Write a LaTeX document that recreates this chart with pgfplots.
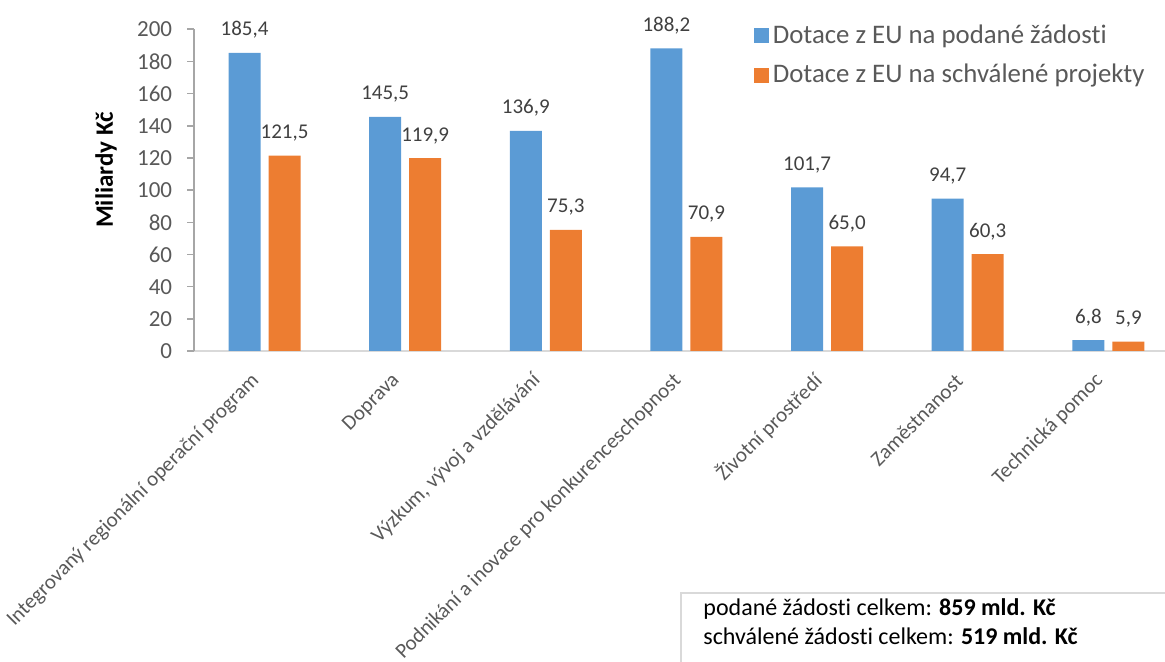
\documentclass[border=0pt]{standalone}
\usepackage{pgfplots}
\pgfplotsset{compat=1.18}
\usepackage{fontspec}
\setmainfont{Carlito}[Ligatures=NoCommon]
\definecolor{cblue}{HTML}{5B9BD5}
\definecolor{corange}{HTML}{ED7D31}
\definecolor{tgrey}{HTML}{595959}
\definecolor{lgrey}{HTML}{404040}
\definecolor{agrey}{HTML}{A6A6A6}
\definecolor{bgrey}{HTML}{D9D9D9}
\begin{document}
\begin{tikzpicture}
\useasboundingbox (0pt,0pt) rectangle (582.5pt,331pt);
\clip (0pt,0pt) rectangle (582.5pt,331pt);
\begin{axis}[
  at={(97.1pt,155.5pt)}, anchor=south west,
  scale only axis, width=492.25pt, height=160.85pt,
  ybar, bar width=16pt,
  xmin=-0.5, xmax=6.5, ymin=0, ymax=200,
  ytick={0,20,...,200},
  xtick={0,...,6},
  xticklabels={Integrovaný regionální operační program,Doprava,{Výzkum, vývoj a vzdělávání},Podnikání a inovace pro konkurenceschopnost,Životní prostředí,Zaměstnanost,Technická pomoc},
  axis x line*=bottom, axis y line*=left,
  x axis line style={bgrey, line width=0.8pt, -},
  y axis line style={agrey, line width=0.8pt, -},
  ytick style={agrey, line width=0.8pt},
  major x tick style={draw=none},
  tick align=outside, major tick length=3.5pt,
  /pgf/number format/assume math mode=true,
  yticklabel style={font=\fontsize{11.5}{13}\selectfont, color=tgrey, xshift=-4pt},
  xticklabel style={font=\fontsize{10.5}{12}\selectfont, color=tgrey, rotate=45, anchor=east, inner sep=1pt, xshift=-8.8pt, yshift=-3.9pt},
  nodes near coords={\pgfmathprintnumber[fixed,fixed zerofill,precision=1,use comma,assume math mode=true]{\pgfplotspointmeta}},
  nodes near coords style={font=\fontsize{10.5}{12}\selectfont, color=lgrey, anchor=base, inner sep=0pt, yshift=8.5pt},
  legend style={at={(rel axis cs:0.568,1.028)}, anchor=north west, draw=none, fill=none,
    font=\fontsize{13.4}{15}\selectfont, text=tgrey, row sep=5pt, inner sep=0pt,
    /tikz/every even column/.append style={column sep=2pt}},
  legend cell align=left,
  legend image code/.code={\fill[#1] (0pt,-3.75pt) rectangle (7.5pt,3.75pt);},
  clip=false,
]
\addplot[fill=cblue, draw=none, bar shift=-10pt] coordinates {(0,185.4) (1,145.5) (2,136.9) (3,188.2) (4,101.7) (5,94.7) (6,6.8)};
\addplot[fill=corange, draw=none, bar shift=10pt] coordinates {(0,121.5) (1,119.9) (2,75.3) (3,70.9) (4,65.0) (5,60.3) (6,5.9)};
\legend{Dotace z EU na podané žádosti, Dotace z EU na schválené projekty}
\end{axis}
\node[rotate=90, font=\fontsize{12.5}{14}\selectfont\bfseries, text=black] at (53pt,246pt) {Miliardy Kč};
\draw[bgrey, line width=1pt] (590pt,34.5pt) -- (340.5pt,34.5pt) -- (340.5pt,-5pt);
\node[anchor=base west, inner sep=0pt, font=\fontsize{12}{14}\selectfont] at (351.5pt,23pt) {podané žádosti celkem: \textbf{859 mld. Kč}};
\node[anchor=base west, inner sep=0pt, font=\fontsize{12}{14}\selectfont] at (351.5pt,8.5pt) {schválené žádosti celkem: \textbf{519 mld. Kč}};
\end{tikzpicture}
\end{document}
